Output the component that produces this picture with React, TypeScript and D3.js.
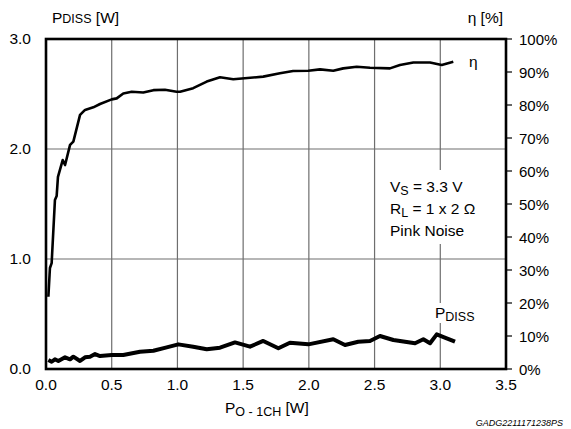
import React from "react";
import * as d3 from "d3";

const poWatts = [0.018, 0.027, 0.03, 0.043, 0.068, 0.081, 0.091, 0.127, 0.145, 0.183, 0.208, 0.259, 0.297, 0.36, 0.411, 0.5, 0.538, 0.588, 0.652, 0.74, 0.817, 0.905, 0.994, 1.02, 1.12, 1.223, 1.324, 1.425, 1.653, 1.78, 1.88, 1.996, 2.085, 2.186, 2.262, 2.364, 2.465, 2.617, 2.693, 2.795, 2.922, 3.011, 3.099];
const etaPercent = [21.9, 28.5, 30.6, 32.1, 51.2, 52.4, 58.2, 63.3, 61.8, 67.9, 68.9, 77.0, 78.5, 79.3, 80.3, 81.7, 82.0, 83.5, 84.0, 83.8, 84.5, 84.6, 84.0, 84.0, 85.1, 87.1, 88.4, 87.8, 88.6, 89.6, 90.3, 90.4, 90.8, 90.4, 91.1, 91.6, 91.3, 91.1, 92.1, 92.9, 92.9, 92.1, 93.1];

const pdissPo = [0.018, 0.043, 0.068, 0.094, 0.145, 0.183, 0.208, 0.259, 0.297, 0.335, 0.373, 0.411, 0.5, 0.588, 0.715, 0.817, 0.918, 1.007, 1.12, 1.223, 1.324, 1.438, 1.552, 1.653, 1.768, 1.856, 1.996, 2.186, 2.275, 2.376, 2.465, 2.541, 2.643, 2.808, 2.871, 2.922, 2.973, 3.049, 3.112];
const pdissWatts = [0.082, 0.066, 0.088, 0.073, 0.106, 0.088, 0.112, 0.073, 0.106, 0.112, 0.136, 0.118, 0.127, 0.127, 0.157, 0.166, 0.197, 0.224, 0.203, 0.179, 0.194, 0.242, 0.203, 0.255, 0.188, 0.239, 0.224, 0.27, 0.218, 0.248, 0.255, 0.3, 0.264, 0.234, 0.27, 0.234, 0.315, 0.279, 0.248];

const xTicks = [0, 0.5, 1.0, 1.5, 2.0, 2.5, 3.0, 3.5];
const leftTicks = [0, 1, 2, 3];
const rightTicks = [0, 10, 20, 30, 40, 50, 60, 70, 80, 90, 100];

const W = 571, H = 429;
const L = 46, R = 506, T = 39, B = 369;
const FONT = "Arial, 'Liberation Sans', Helvetica, sans-serif";

export default function App() {
  const x = d3.scaleLinear().domain([0, 3.5]).range([L, R]);
  const yL = d3.scaleLinear().domain([0, 3]).range([B, T]);
  const yR = d3.scaleLinear().domain([0, 100]).range([B, T]);

  const etaLine = d3.line<number>().x((_, i) => x(poWatts[i])).y((d) => yR(d));
  const pdLine = d3.line<number>().x((_, i) => x(pdissPo[i])).y((d) => yL(d));

  return (
    <svg width={W} height={H} style={{ position: "absolute", left: 0, top: 0, background: "#fff" }} fontFamily={FONT}>
      {xTicks.slice(1, -1).map((t) => (
        <line key={"gx" + t} x1={x(t)} x2={x(t)} y1={T} y2={B} stroke="#6e6e6e" strokeWidth={1.2} />
      ))}
      {[1, 2].map((t) => (
        <line key={"gy" + t} x1={L} x2={R} y1={yL(t)} y2={yL(t)} stroke="#6e6e6e" strokeWidth={1.2} />
      ))}
      <rect x={386} y={170} width={104} height={74} fill="#fff" />
      <rect x={432} y={303} width={54} height={20} fill="#fff" />
      <path d={etaLine(etaPercent) || ""} fill="none" stroke="#000" strokeWidth={2.6} strokeLinejoin="round" />
      <path d={pdLine(pdissWatts) || ""} fill="none" stroke="#000" strokeWidth={4} strokeLinejoin="round" />
      <rect x={L} y={T} width={R - L} height={B - T} fill="none" stroke="#000" strokeWidth={2.6} />
      {rightTicks.map((t) => (
        <g key={"rt" + t}>
          <line x1={R} x2={R + 6} y1={yR(t)} y2={yR(t)} stroke="#000" strokeWidth={1.2} />
          <text x={R + 13} y={yR(t)} dy="0.4em" fontSize={15}>{t}%</text>
        </g>
      ))}
      {leftTicks.map((t) => (
        <text key={"lt" + t} x={31} y={yL(t)} dy="0.35em" textAnchor="end" fontSize={15.5}>{t.toFixed(1)}</text>
      ))}
      {xTicks.map((t) => (
        <text key={"xt" + t} x={x(t)} y={390} textAnchor="middle" fontSize={15.5}>{t.toFixed(1)}</text>
      ))}
      <text x={52} y={23} fontSize={15.5}>P<tspan fontSize={12.5}>DISS</tspan> [W]</text>
      <text x={503} y={23} textAnchor="end" fontSize={15.5}>η [%]</text>
      <text x={225} y={413} fontSize={15.5}>P<tspan fontSize={12.5} dy={3}>O - 1CH</tspan><tspan dy={-3}> [W]</tspan></text>
      <text x={563} y={426} textAnchor="end" fontSize={9} fontStyle="italic">GADG2211171238PS</text>
      <text x={469} y={67} fontSize={15.5}>η</text>
      <text x={435} y={318} fontSize={15.5}>P<tspan fontSize={12.5} dy={3}>DISS</tspan></text>
      <text x={390} y={192} fontSize={15.5}>V<tspan fontSize={12.5} dy={3}>S</tspan><tspan dy={-3}> = 3.3 V</tspan></text>
      <text x={390} y={214} fontSize={15.5}>R<tspan fontSize={12.5} dy={3}>L</tspan><tspan dy={-3}> = 1 x 2 Ω</tspan></text>
      <text x={390} y={236} fontSize={15.5}>Pink Noise</text>
    </svg>
  );
}
